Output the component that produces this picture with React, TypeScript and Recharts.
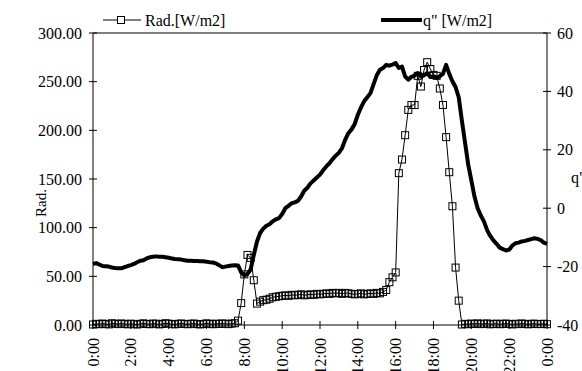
import React from 'react';
import { LineChart, Line, XAxis, YAxis, ReferenceLine } from 'recharts';

// 10-minute readings over one day (index 0 = 0:00, 144 = next 0:00)
const radValues = [
  0.5, 1.2, 0.8, 1.5, 1.0, 0.6, 1.8, 1.3, 0.9, 1.6,
  1.1, 0.7, 1.4, 0.9, 0.5, 1.2, 1.7, 1.0, 0.8, 1.5,
  1.3, 0.6, 1.1, 1.8, 1.4, 0.9, 0.7, 1.2, 1.6, 1.0,
  0.8, 1.3, 1.5, 0.9, 0.6, 1.1, 1.7, 1.2, 0.8, 1.4,
  1.0, 1.6, 1.3, 0.9, 1.5, 1.8, 4.5, 22.5, 52, 72,
  69, 46, 22, 24, 25.5, 26, 27, 28.5, 29, 29.5,
  30, 30.5, 30, 31, 30.5, 31, 31.5, 30.5, 31, 31.5,
  31, 32, 31.5, 32, 32.5, 32, 33, 32.5, 33, 32,
  33, 32.5, 32, 31.5, 32, 32.5, 31.5, 32, 32.5, 32,
  33, 32.5, 34, 36, 44, 49, 54, 156, 170, 195,
  221, 226, 226, 256, 245, 262, 270, 263, 257, 256,
  243, 226, 193, 157, 122, 59, 25, 0.5, 1.2, 0.8,
  1.5, 1.0, 1.7, 0.9, 1.3, 1.6, 0.7, 1.1, 1.4, 0.8,
  1.2, 1.5, 1.0, 0.6, 1.3, 0.9, 1.6, 1.1, 0.7, 1.2,
  1.4, 0.9, 1.0, 1.3, 0.8,
];

const qValues = [
  -19.1, -18.8, -19.3, -19.8, -19.9, -20.0, -20.3, -20.5, -20.6, -20.6,
  -20.2, -19.8, -19.5, -19.1, -18.5, -18.0, -17.8, -17.2, -16.8, -16.6,
  -16.5, -16.6, -16.6, -16.8, -17.0, -17.2, -17.4, -17.5, -17.6, -17.8,
  -18.0, -18.0, -18.1, -18.1, -18.2, -18.2, -18.3, -18.5, -18.6, -18.9,
  -19.5, -20.2, -20.0, -19.8, -19.6, -19.5, -19.6, -22.0, -23.0, -22.5,
  -21.0, -16.0, -11.5, -8.5, -7.0, -6.0, -5.5, -4.5, -3.8, -3.4,
  -2.0, 0.0, 0.8, 1.7, 2.0, 2.5, 4.0, 6.0, 7.0, 8.5,
  9.5, 10.5, 11.5, 13.0, 14.3, 15.4, 16.8, 18.0, 19.0, 20.6,
  23.5, 25.7, 27.0, 28.8, 32.0, 34.5, 36.6, 38.0, 39.4, 42.5,
  45.5, 47.4, 48.0, 49.1, 48.8, 49.2, 49.7, 48.0, 48.5, 45.1,
  44.0, 45.0, 45.4, 46.3, 45.1, 45.5, 46.3, 44.9, 45.2, 44.6,
  45.2, 46.0, 49.1, 46.0, 43.5, 41.5, 38.0, 30.0, 22.5, 15.0,
  9.5, 4.0, 0.0, -2.5, -4.5, -7.5, -9.5, -11.0, -12.2, -13.5,
  -14.0, -14.5, -14.2, -12.8, -12.0, -11.8, -11.4, -11.2, -10.9, -10.6,
  -10.3, -10.5, -10.9, -11.8, -12.2,
];

const timeTicks = [0, 12, 24, 36, 48, 60, 72, 84, 96, 108, 120, 132, 144];
const timeLabels = ['0:00', '2:00', '4:00', '6:00', '8:00', '10:00', '12:00', '14:00', '16:00', '18:00', '20:00', '22:00', '0:00'];
const radTicks = [0, 50, 100, 150, 200, 250, 300];
const qTicks = [-40, -20, 0, 20, 40, 60];

const data = radValues.map((rad, i) => ({ i, rad, q: qValues[i] }));

const FONT = '"Liberation Serif", "Times New Roman", serif';

const LeftTick = ({ x, y, payload }: any) => (
  <g>
    <line x1={x + 7} x2={x + 15} y1={y} y2={y} stroke="#000" />
    <text x={x} y={y} dy="0.35em" textAnchor="end" fontFamily={FONT} fontSize={16} fill="#000">
      {Number(payload.value).toFixed(2)}
    </text>
  </g>
);

const RightTick = ({ x, y, payload }: any) => (
  <g>
    <line x1={x - 14} x2={x - 6} y1={y} y2={y} stroke="#000" />
    <text x={x} y={y} dy="0.35em" textAnchor="start" fontFamily={FONT} fontSize={16} fill="#000">
      {payload.value}
    </text>
  </g>
);

const TimeTick = ({ x, y, payload }: any) => {
  const idx = timeTicks.indexOf(payload.value);
  return (
    <g>
      <line x1={x} x2={x} y1={y - 17} y2={y - 9} stroke="#000" />
      <text
        x={x}
        y={y}
        dy="0.35em"
        textAnchor="end"
        transform={`rotate(-90, ${x}, ${y})`}
        fontFamily={FONT}
        fontSize={16}
        fill="#000"
      >
        {timeLabels[idx]}
      </text>
    </g>
  );
};

// open square marker
const SquareDot = (props: any) => {
  const { cx, cy, index } = props;
  if (cx == null || cy == null) return <g key={`d-${index}`} />;
  return <rect key={`d-${index}`} x={cx - 3.5} y={cy - 3.5} width={7} height={7} fill="none" stroke="#000" strokeWidth={1} />;
};

const Overlay = () => (
  <svg width={582} height={371} style={{ position: 'absolute', left: 0, top: 0, pointerEvents: 'none' }}>
    <g fontFamily={FONT} fontSize={16} fill="#000">
      <line x1={103} x2={141} y1={20} y2={20} stroke="#000" strokeWidth={1} />
      <rect x={117.5} y={16.5} width={7} height={7} fill="#fff" stroke="#000" />
      <text x={145} y={20} dy="0.35em">Rad.[W/m2]</text>
      <line x1={381} x2={422} y1={20} y2={20} stroke="#000" strokeWidth={4} />
      <text x={423} y={20} dy="0.35em">q" [W/m2]</text>
      <text x={41} y={203} dy="0.35em" textAnchor="middle" transform="rotate(-90, 41, 203)" fontSize={15}>Rad.</text>
      <text x={571} y={183}>q"</text>
    </g>
  </svg>
);

export default function App() {
  return (
    <div style={{ position: 'absolute', left: 0, top: 0, width: 582, height: 371, background: '#fff', overflow: 'hidden' }}>
      <LineChart width={582} height={371} data={data} margin={{ top: 33, right: 0, bottom: 0, left: 0 }}>
        <XAxis
          dataKey="i"
          type="number"
          domain={[0, 144]}
          ticks={timeTicks}
          interval={0}
          height={46}
          tickSize={4}
          tickMargin={9}
          tickLine={false}
          tick={<TimeTick />}
          axisLine={{ stroke: '#000' }}
        />
        <YAxis
          yAxisId="left"
          orientation="left"
          domain={[0, 300]}
          ticks={radTicks}
          width={93}
          tickSize={4}
          tickMargin={7}
          tickLine={false}
          tick={<LeftTick />}
          axisLine={{ stroke: '#000' }}
        />
        <YAxis
          yAxisId="right"
          orientation="right"
          domain={[-40, 60]}
          ticks={qTicks}
          width={35}
          tickSize={4}
          tickMargin={6}
          tickLine={false}
          tick={<RightTick />}
          axisLine={{ stroke: '#000' }}
        />
        <ReferenceLine yAxisId="left" y={300} stroke="#000" />
        <Line
          yAxisId="right"
          dataKey="q"
          type="linear"
          stroke="#000"
          strokeWidth={4}
          strokeLinejoin="round"
          dot={false}
          isAnimationActive={false}
        />
        <Line
          yAxisId="left"
          dataKey="rad"
          type="linear"
          stroke="#000"
          strokeWidth={1}
          dot={SquareDot}
          isAnimationActive={false}
        />
      </LineChart>
      <Overlay />
    </div>
  );
}
